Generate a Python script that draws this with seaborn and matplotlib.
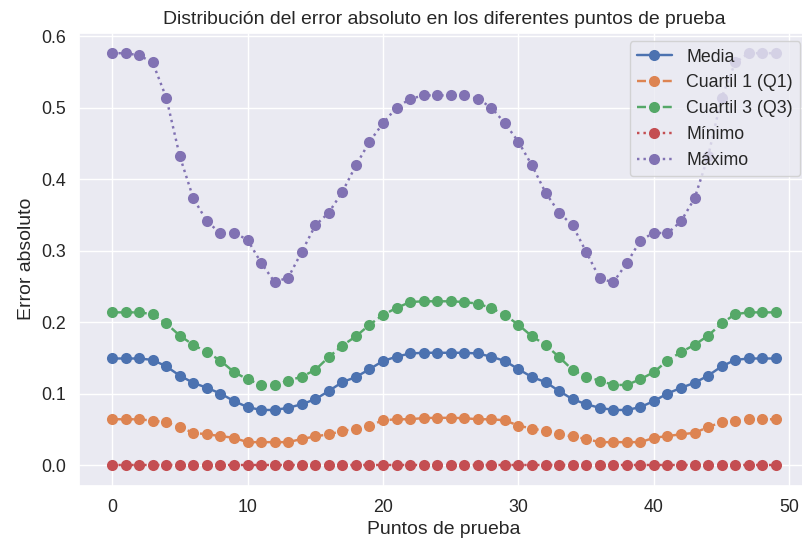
import matplotlib
matplotlib.use("Agg")
import matplotlib.pyplot as plt
import seaborn as sns
import numpy as np

puntos = list(range(50))

media = [0.149, 0.149, 0.149, 0.147, 0.138, 0.125, 0.115, 0.108, 0.100, 0.0895,
         0.081, 0.077, 0.077, 0.080, 0.085, 0.092, 0.1035, 0.116, 0.123, 0.134,
         0.1455, 0.1515, 0.156, 0.157, 0.157, 0.157, 0.157, 0.156, 0.1515, 0.1455,
         0.134, 0.123, 0.116, 0.1035, 0.092, 0.085, 0.080, 0.077, 0.077, 0.081,
         0.0895, 0.100, 0.108, 0.115, 0.125, 0.138, 0.147, 0.149, 0.149, 0.149]

q1 = [0.064, 0.064, 0.064, 0.062, 0.060, 0.053, 0.045, 0.043, 0.0405, 0.038,
      0.032, 0.032, 0.032, 0.032, 0.0364, 0.040, 0.043, 0.0475, 0.051, 0.055,
      0.0625, 0.064, 0.064, 0.0657, 0.066, 0.066, 0.0655, 0.064, 0.064, 0.0625,
      0.055, 0.051, 0.0475, 0.043, 0.040, 0.0364, 0.032, 0.032, 0.032, 0.032,
      0.038, 0.0405, 0.043, 0.045, 0.053, 0.060, 0.062, 0.064, 0.064, 0.064]

q3 = [0.2135, 0.2135, 0.2135, 0.211, 0.198, 0.181, 0.168, 0.158, 0.146, 0.130,
      0.120, 0.112, 0.112, 0.118, 0.1235, 0.133, 0.151, 0.167, 0.180, 0.196,
      0.210, 0.2196, 0.228, 0.229, 0.229, 0.229, 0.228, 0.2256, 0.2196, 0.210,
      0.196, 0.180, 0.168, 0.151, 0.133, 0.1235, 0.118, 0.112, 0.112, 0.120,
      0.130, 0.146, 0.158, 0.168, 0.181, 0.198, 0.211, 0.2135, 0.2135, 0.2135]

minimo = [0.0] * 50

maximo = [0.576, 0.576, 0.573, 0.563, 0.514, 0.432, 0.373, 0.341, 0.324, 0.325,
          0.315, 0.283, 0.256, 0.262, 0.298, 0.335, 0.353, 0.382, 0.419, 0.452,
          0.478, 0.500, 0.512, 0.517, 0.517, 0.517, 0.517, 0.512, 0.500, 0.478,
          0.452, 0.419, 0.381, 0.353, 0.335, 0.298, 0.261, 0.2555, 0.2825, 0.314,
          0.325, 0.324, 0.341, 0.373, 0.432, 0.514, 0.563, 0.576, 0.576, 0.576]

series = [
    ("Media", media, "-"),
    ("Cuartil 1 (Q1)", q1, "--"),
    ("Cuartil 3 (Q3)", q3, "--"),
    ("Mínimo", minimo, ":"),
    ("Máximo", maximo, ":"),
]

sns.set_theme(style="darkgrid", font_scale=1.164)
plt.rcParams["font.family"] = ["Liberation Sans", "DejaVu Sans"]
palette = sns.color_palette("deep")

fig = plt.figure(figsize=(8.02, 5.46), dpi=100)
ax = fig.add_axes([0.0983, 0.1106, 0.9105, 0.8297])

for i, (nombre, valores, estilo) in enumerate(series):
    sns.lineplot(x=puntos, y=valores, ax=ax, color=palette[i], linestyle=estilo,
                 linewidth=1.75, marker="o", markersize=8, markeredgewidth=0,
                 label=nombre)

ax.set_title("Distribución del error absoluto en los diferentes puntos de prueba")
ax.set_xlabel("Puntos de prueba")
ax.set_ylabel("Error absoluto")
ax.legend(loc="upper right")

fig.savefig("out.png", dpi=100)
